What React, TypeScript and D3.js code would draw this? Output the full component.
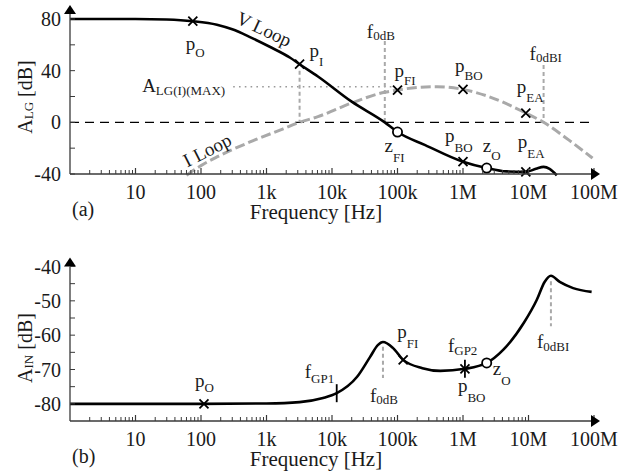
import * as d3 from 'd3'

// frequency axis (Hz)
const decades = [10, 100, 1e3, 1e4, 1e5, 1e6, 1e7, 1e8]
const decadeLabels = ['10', '100', '1k', '10k', '100k', '1M', '10M', '100M']

// (a) loop gain A_LG [dB]
const lgTicks = [-40, -20, 0, 20, 40, 60, 80]
const lgLabels = [-40, 0, 40, 80]
const vLoop: [number, number][] = [
  [1, 80], [10, 80], [30, 79.6], [75, 78.3], [175, 75.6], [300, 72], [560, 66],
  [1120, 58.5], [2300, 50], [3200, 45], [6100, 35.5], [20000, 16], [64000, 0], [1e5, -7.5],
  [2.65e5, -17.6], [1e6, -30.5], [2.3e6, -35.4], [4.6e6, -38], [9.1e6, -38.3],
  [13e6, -36], [17e6, -34.5], [21e6, -36], [27e6, -41],
]
const iLoop: [number, number][] = [
  [60, -41], [100, -33.5], [175, -26.8], [560, -15.2], [1800, -5], [3200, 0],
  [6100, 4.4], [20000, 15], [64000, 23.3], [1e5, 25], [2e5, 27], [4e5, 27.6],
  [1e6, 25.5], [2.3e6, 20.5], [9.1e6, 7.2], [17e6, 0], [42e6, -14], [95e6, -27.7],
]
const iLoopMax = 27.6
const iLoopMaxSpan = [310, 86000]
// [name, sub, freq, dB, shape]
const lgMarkers: [string, string, number, number, string][] = [
  ['p', 'O', 75, 78.3, 'x'],
  ['p', 'I', 3200, 45, 'x'],
  ['z', 'FI', 1e5, -7.5, 'o'],
  ['p', 'BO', 1e6, -30.5, 'x'],
  ['z', 'O', 2.3e6, -35.4, 'o'],
  ['p', 'EA', 9.1e6, -38.3, 'x'],
  ['p', 'FI', 1e5, 25, 'x'],
  ['p', 'BO', 1e6, 25.5, 'x'],
  ['p', 'EA', 9.1e6, 7.2, 'x'],
]
// [sub, freq, from dB, to dB]
const lgGuides: [string, number, number, number][] = [
  ['', 3200, 40, 0],
  ['0dB', 64000, 63, 0],
  ['0dBI', 17e6, 44.4, 0],
]

// (b) A_IN [dB]
const inTicks = [-80, -75, -70, -65, -60, -55, -50, -45, -40]
const inLabels = [-80, -70, -60, -50, -40]
const aIn: [number, number][] = [
  [1, -80], [100, -80], [1000, -79.9], [3200, -79.5], [7300, -78.3], [11800, -76.9],
  [24000, -72.2], [38000, -66.4], [50000, -62.9], [60000, -62], [85000, -63.7],
  [122000, -67.2], [240000, -69.6], [450000, -70.4], [1.07e6, -69.8], [2.3e6, -68.1],
  [4.1e6, -64.3], [8.5e6, -56.4], [13.4e6, -49.7], [17.6e6, -44.5], [22e6, -42.7],
  [30e6, -44.5], [48e6, -46.3], [92e6, -47.4],
]
const inMarkers: [string, string, number, number, string][] = [
  ['p', 'O', 111, -80, 'x'],
  ['f', 'GP1', 11800, -76.9, '|'],
  ['p', 'FI', 122000, -67.2, 'x'],
  ['p', 'BO', 1.07e6, -69.8, 'x|'],
  ['f', 'GP2', 1.07e6, -69.8, ''],
  ['z', 'O', 2.3e6, -68.1, 'o'],
]
const inGuides: [string, number, number, number][] = [
  ['0dB', 60000, -63.4, -72.5],
  ['0dBI', 22e6, -44.3, -57.4],
]

// label offsets from their anchor point: [dx, dy, subscript dy]
const lgMarkerText = [
  [-7, 29, 7], [10, -7, 9], [-13, 20, 10], [-18, -20, 10], [-4, -16, 8],
  [-8, -24, 10], [-3, -13, 8], [-8, -17, 8], [-9, -20, 9],
]
const lgGuideText = [null, [-18, -3, 2], [-14, -5, 2]]
const inMarkerText = [[-9, -17, 5], [-32, -15, 5], [-6, -22, 10], [-7, 23, 10], [-17, -17, 3], [6, 12, 10]]
const inGuideText = [[-13, 24, 2], [-14, 22, 3]]

const FONT = "'Liberation Serif', 'Times New Roman', serif"
const INK = '#1a1a1a'
const AXIS = '#3a3a3a'
const GRAY = '#a9a9a9'

const x = d3.scaleLog().domain([1, 1e8]).range([70, 594])
const yLG = d3.scaleLinear().domain([-40, 80]).range([174, 19])
const yIN = d3.scaleLinear().domain([-85, -40]).range([421, 266.5])

function Label({ px, py, main, sub, sdy, anchor = 'start', size = 19, subSize = 13 }: any) {
  return (
    <text x={px} y={py} fontSize={size} textAnchor={anchor} fill={INK}>
      {main}
      <tspan fontSize={subSize} dy={sdy}>{sub}</tspan>
    </text>
  )
}

function Marker({ cx, cy, shape }: any) {
  const s = 4.5
  return (
    <g stroke="#000" strokeWidth={1.8}>
      {shape.includes('x') && (
        <path d={`M${cx - s},${cy - s}L${cx + s},${cy + s}M${cx - s},${cy + s}L${cx + s},${cy - s}`} fill="none" />
      )}
      {shape.includes('|') && <line x1={cx} x2={cx} y1={cy - 9} y2={cy + 9} />}
      {shape.includes('o') && <circle cx={cx} cy={cy} r={4.6} fill="#fff" />}
    </g>
  )
}

function XAxis({ y0, tag }: any) {
  const [x0, x1] = x.range()
  const minor = d3.range(0, 7).flatMap((e) => d3.range(2, 10).map((k) => k * 10 ** e))
  return (
    <g>
      <line x1={x0} x2={x1} y1={y0} y2={y0} stroke={AXIS} strokeWidth={1.3} />
      {minor.map((f) => (
        <line key={f} x1={x(f)} x2={x(f)} y1={y0} y2={y0 - 4} stroke={AXIS} strokeWidth={1} />
      ))}
      {decades.map((f) => (
        <line key={f} x1={x(f)} x2={x(f)} y1={y0} y2={y0 - 6} stroke={AXIS} strokeWidth={1.2} />
      ))}
      <path d={`M${x1 - 3},${y0 - 6}L${x1 + 6},${y0}L${x1 - 3},${y0 + 6}Z`} fill="#000" />
      {decades.map((f, i) => (
        <text key={f} x={x(f)} y={y0 + 25} fontSize={20} textAnchor="middle" fill={INK}>
          {decadeLabels[i]}
        </text>
      ))}
      <text x={72} y={y0 + 42} fontSize={20} fill={INK}>{tag}</text>
      <text x={316} y={y0 + 45} fontSize={21} textAnchor="middle" fill={INK}>Frequency [Hz]</text>
    </g>
  )
}

function YAxis({ y, ticks, labels, topPad, sub, titleY }: any) {
  const [b, t] = y.range()
  const top = t - topPad
  const x0 = x.range()[0]
  return (
    <g>
      <line x1={x0} x2={x0} y1={b} y2={top} stroke={AXIS} strokeWidth={1.3} />
      <path d={`M${x0 - 6},${top}L${x0},${top - 9}L${x0 + 6},${top}Z`} fill="#000" />
      {ticks.map((v: number) => (
        <line key={v} x1={x0} x2={x0 + 5} y1={y(v)} y2={y(v)} stroke={AXIS} strokeWidth={1} />
      ))}
      {labels.map((v: number) => (
        <text key={v} x={x0 - 9} y={y(v) + 7} fontSize={20} textAnchor="end" fill={INK}>{v}</text>
      ))}
      <text transform={`translate(32,${titleY}) rotate(-90)`} fontSize={20} textAnchor="middle" fill={INK}>
        A<tspan fontSize={13} dy={1}>{sub}</tspan>
        <tspan dy={-1}> [dB]</tspan>
      </text>
    </g>
  )
}

export default function App() {
  const lineLG = d3.line<[number, number]>().x((d) => x(d[0])).y((d) => yLG(d[1])).curve(d3.curveMonotoneX)
  const lineIN = d3.line<[number, number]>().x((d) => x(d[0])).y((d) => yIN(d[1])).curve(d3.curveMonotoneX)

  return (
    <svg width={636} height={472} style={{ position: 'absolute', left: 0, top: 0, background: '#fff', fontFamily: FONT }}>
      {/* (a) */}
      <line x1={x(1)} x2={590} y1={yLG(0)} y2={yLG(0)} stroke="#000" strokeWidth={1.3} strokeDasharray="9,6" />
      <line
        x1={x(iLoopMaxSpan[0])} x2={x(iLoopMaxSpan[1])} y1={yLG(iLoopMax)} y2={yLG(iLoopMax)}
        stroke="#999" strokeWidth={1.6} strokeDasharray="1.6,4.2"
      />
      <Label px={x(iLoopMaxSpan[0]) - 8} py={yLG(iLoopMax) + 5} main="A" sub="LG(I)(MAX)" sdy={3} anchor="end" />
      {lgGuides.map(([sub, f, a, b], i) => (
        <g key={i}>
          <line x1={x(f)} x2={x(f)} y1={yLG(a)} y2={yLG(b)} stroke={GRAY} strokeWidth={2} strokeDasharray="4,3" />
          {lgGuideText[i] && (
            <Label px={x(f) + lgGuideText[i]![0]} py={yLG(a) + lgGuideText[i]![1]} main="f" sub={sub} sdy={lgGuideText[i]![2]} />
          )}
        </g>
      ))}
      <path d={lineLG(iLoop)!} fill="none" stroke={GRAY} strokeWidth={3} strokeDasharray="10,4" />
      <path d={lineLG(vLoop)!} fill="none" stroke="#000" strokeWidth={2.6} />
      <text transform={`translate(${x(920)},${yLG(72.3)}) rotate(25)`} dy="0.35em" fontSize={19} textAnchor="middle" fill={INK}>V Loop</text>
      <text transform={`translate(${x(124)},${yLG(-21.4)}) rotate(-27)`} dy="0.35em" fontSize={19} textAnchor="middle" fill={INK}>I Loop</text>
      {lgMarkers.map(([main, sub, f, v, shape], i) => (
        <g key={i}>
          <Marker cx={x(f)} cy={yLG(v)} shape={shape} />
          <Label px={x(f) + lgMarkerText[i][0]} py={yLG(v) + lgMarkerText[i][1]} main={main} sub={sub} sdy={lgMarkerText[i][2]} />
        </g>
      ))}
      <YAxis y={yLG} ticks={lgTicks} labels={lgLabels} topPad={5} sub="LG" titleY={97} />
      <XAxis y0={yLG.range()[0]} tag="(a)" />

      {/* (b) */}
      {inGuides.map(([sub, f, a, b], i) => (
        <g key={i}>
          <line x1={x(f)} x2={x(f)} y1={yIN(a)} y2={yIN(b)} stroke={GRAY} strokeWidth={2} strokeDasharray="4,3" />
          <Label px={x(f) + inGuideText[i][0]} py={yIN(b) + inGuideText[i][1]} main="f" sub={sub} sdy={inGuideText[i][2]} />
        </g>
      ))}
      <path d={lineIN(aIn)!} fill="none" stroke="#000" strokeWidth={2.6} />
      {inMarkers.map(([main, sub, f, v, shape], i) => (
        <g key={i}>
          <Marker cx={x(f)} cy={yIN(v)} shape={shape} />
          <Label px={x(f) + inMarkerText[i][0]} py={yIN(v) + inMarkerText[i][1]} main={main} sub={sub} sdy={inMarkerText[i][2]} />
        </g>
      ))}
      <YAxis y={yIN} ticks={inTicks} labels={inLabels} topPad={0} sub="IN" titleY={348} />
      <XAxis y0={yIN.range()[0]} tag="(b)" />
    </svg>
  )
}
